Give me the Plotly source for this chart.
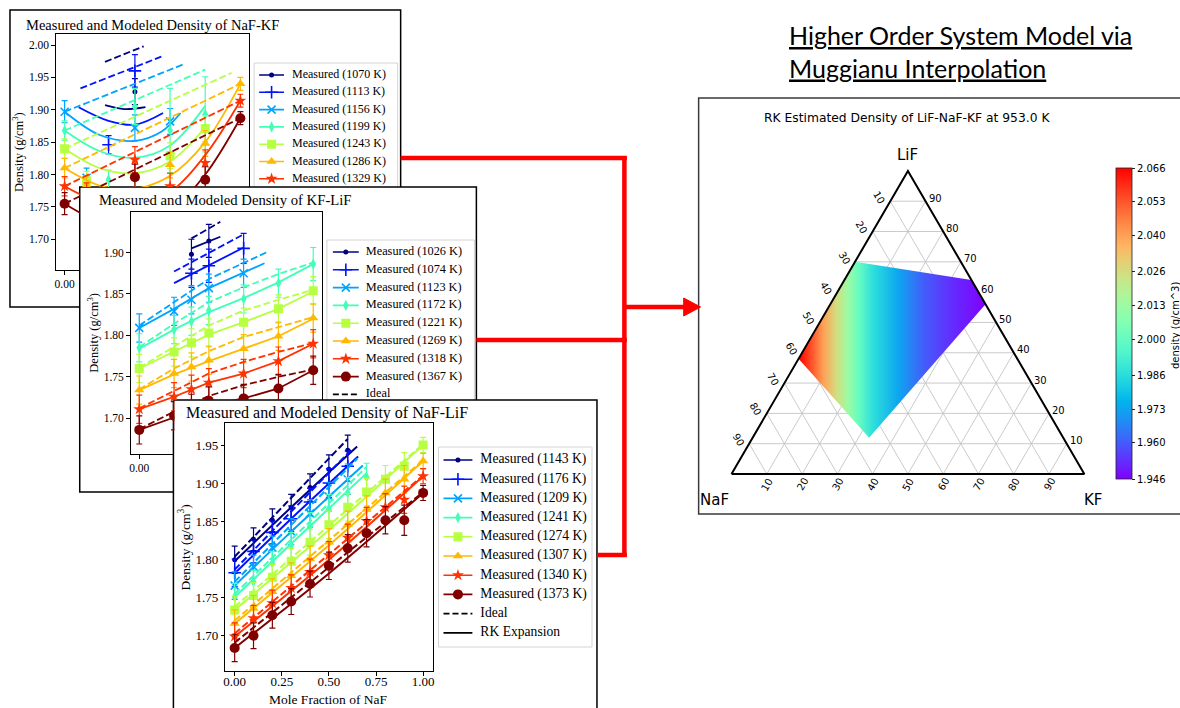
import math
import plotly.graph_objects as go

W, H = 1180, 708

# ------------------------------------------------------------------ data
JET8 = ['#000080', '#0012ff', '#00a4ff', '#41ffb6', '#b6ff41', '#ffb900', '#ff3200', '#800000']
MARKERS = ['circle', 'cross-thin-open', 'x-thin-open', 'diamond-tall', 'square', 'triangle-up', 'star', 'circle']
MSIZES = [5, 9, 8, 8, 9, 9, 9, 10]

X_TICKS = [0.0, 0.25, 0.5, 0.75, 1.0]
X_TICK_TEXT = ['0.00', '0.25', '0.50', '0.75', '1.00']
Y1_TICKS = [1.70, 1.75, 1.80, 1.85, 1.90, 1.95, 2.00]
Y2_TICKS = [1.70, 1.75, 1.80, 1.85, 1.90]
Y3_TICKS = [1.70, 1.75, 1.80, 1.85, 1.90, 1.95]

# Panel 1: NaF-KF
T1 = [1070, 1113, 1156, 1199, 1243, 1286, 1329, 1372]
P1_IDEAL_X = [[0.23, 0.45], [0.09, 0.55], [0.0, 0.675], [0.0, 0.80], [0.0, 0.95], [0.0, 1.0], [0.0, 1.0], [0.0, 1.0]]
P1_IDEAL_Y = [[1.974, 1.998], [1.933, 1.982], [1.897, 1.970], [1.868, 1.962], [1.840, 1.957], [1.810, 1.940], [1.782, 1.914], [1.755, 1.887]]
P1_RK_X = [[0.23, 0.34, 0.46], [0.08, 0.25, 0.40, 0.56], [0.0, 0.2, 0.4, 0.55, 0.66],
           [0.0, 0.2, 0.4, 0.6, 0.8], [0.0, 0.2, 0.4, 0.6, 0.8], [0.0, 0.2, 0.4, 0.6, 0.8, 1.0],
           [0.0, 0.2, 0.4, 0.6, 0.8, 1.0], [0.0, 0.2, 0.4, 0.6, 0.8, 1.0]]
P1_RK_Y = [[1.907, 1.901, 1.904], [1.904, 1.883, 1.877, 1.895], [1.897, 1.861, 1.852, 1.866, 1.895],
           [1.868, 1.836, 1.826, 1.845, 1.906], [1.840, 1.810, 1.802, 1.820, 1.873],
           [1.810, 1.783, 1.778, 1.798, 1.850, 1.940], [1.782, 1.757, 1.752, 1.773, 1.830, 1.914],
           [1.755, 1.727, 1.718, 1.743, 1.800, 1.887]]
P1_MEAS_X = [[0.4], [0.25, 0.4], [0.0, 0.125, 0.4, 0.6], [0.0, 0.25, 0.4, 0.6, 0.8], [0.0, 0.125, 0.6, 0.8],
             [0.0, 0.125, 0.4, 0.6, 0.8, 1.0], [0.0, 0.125, 0.4, 0.6, 0.8, 1.0], [0.0, 0.4, 0.8, 1.0]]
P1_MEAS_Y = [[1.928], [1.846, 1.960], [1.897, 1.795, 1.872, 1.882], [1.868, 1.792, 1.905, 1.868, 1.893],
             [1.840, 1.790, 1.829, 1.871], [1.810, 1.783, 1.800, 1.815, 1.848, 1.940],
             [1.782, 1.772, 1.823, 1.782, 1.818, 1.914], [1.755, 1.796, 1.792, 1.887]]
P1_MEAS_E = [[0.020], [0.014, 0.025], [0.017, 0.015, 0.020, 0.020], [0.015, 0.015, 0.028, 0.065, 0.058],
             [0.015, 0.015, 0.020, 0.020], [0.015, 0.015, 0.020, 0.020, 0.020, 0.010],
             [0.015, 0.015, 0.020, 0.020, 0.020, 0.010], [0.017, 0.020, 0.020, 0.010]]

# Panel 2: KF-LiF
T2 = [1026, 1074, 1123, 1172, 1221, 1269, 1318, 1367]
P2_IDEAL_X = [[0.3, 0.466], [0.2, 0.6], [0.0, 0.2, 0.4, 0.73], [0.0, 0.2, 0.4, 0.6, 0.8, 1.0],
              [0.0, 0.2, 0.4, 0.6, 0.8, 1.0], [0.0, 0.2, 0.4, 0.6, 0.8, 1.0],
              [0.0, 0.2, 0.4, 0.6, 0.8, 1.0], [0.0, 0.2, 0.4, 0.6, 0.8, 1.0]]
P2_IDEAL_Y = [[1.917, 1.937], [1.877, 1.922], [1.812, 1.840, 1.868, 1.900],
              [1.786, 1.814, 1.840, 1.858, 1.874, 1.888], [1.761, 1.787, 1.812, 1.830, 1.843, 1.855],
              [1.735, 1.760, 1.781, 1.798, 1.810, 1.822], [1.712, 1.733, 1.754, 1.768, 1.780, 1.791],
              [1.687, 1.708, 1.727, 1.740, 1.750, 1.759]]
P2_RK_X = [[0.3, 0.466], [0.2, 0.6], [0.0, 0.2, 0.4, 0.72], [0.0, 0.2, 0.4, 0.6, 0.8, 1.0],
           [0.0, 0.2, 0.4, 0.6, 0.8, 1.0], [0.0, 0.2, 0.4, 0.6, 0.8, 1.0],
           [0.0, 0.2, 0.4, 0.6, 0.8, 1.0], [0.0, 0.2, 0.4, 0.6, 0.8, 1.0]]
P2_RK_Y = [[1.905, 1.919], [1.863, 1.906], [1.809, 1.832, 1.857, 1.887],
           [1.784, 1.807, 1.828, 1.845, 1.864, 1.886], [1.760, 1.780, 1.801, 1.816, 1.832, 1.853],
           [1.734, 1.753, 1.769, 1.784, 1.799, 1.820], [1.711, 1.726, 1.743, 1.754, 1.769, 1.790],
           [1.686, 1.701, 1.716, 1.724, 1.736, 1.758]]
P2_MEAS_X = [[0.3, 0.4], [0.3, 0.4, 0.6], [0.0, 0.2, 0.3, 0.4, 0.6],
             [0.0, 0.2, 0.3, 0.4, 0.6, 0.8, 1.0], [0.0, 0.2, 0.3, 0.4, 0.6, 0.8, 1.0],
             [0.0, 0.2, 0.3, 0.4, 0.6, 0.8, 1.0], [0.0, 0.2, 0.3, 0.4, 0.6, 0.8, 1.0],
             [0.0, 0.2, 0.3, 0.4, 0.6, 0.8, 1.0]]
P2_MEAS_Y = [[1.898, 1.914], [1.875, 1.884, 1.905], [1.809, 1.829, 1.843, 1.857, 1.875],
             [1.785, 1.807, 1.817, 1.830, 1.844, 1.863, 1.886],
             [1.760, 1.780, 1.791, 1.803, 1.816, 1.832, 1.854],
             [1.734, 1.754, 1.762, 1.770, 1.784, 1.799, 1.821],
             [1.711, 1.726, 1.735, 1.743, 1.754, 1.769, 1.790],
             [1.686, 1.703, 1.712, 1.721, 1.724, 1.736, 1.758]]
P2_MEAS_E = [[0.018, 0.020], [0.017, 0.020, 0.018], [0.017, 0.017, 0.017, 0.017, 0.017],
             [0.017, 0.017, 0.017, 0.017, 0.017, 0.017, 0.020],
             [0.017, 0.017, 0.017, 0.017, 0.017, 0.017, 0.017],
             [0.017, 0.017, 0.017, 0.017, 0.017, 0.017, 0.017],
             [0.017, 0.017, 0.017, 0.017, 0.017, 0.017, 0.017],
             [0.017, 0.017, 0.017, 0.017, 0.017, 0.017, 0.017]]

# Panel 3: NaF-LiF
T3 = [1143, 1176, 1209, 1241, 1274, 1307, 1340, 1373]
X7 = [0.0, 0.1, 0.2, 0.3, 0.4, 0.5, 0.6]
X8 = [0.0, 0.1, 0.2, 0.3, 0.4, 0.5, 0.6, 0.7]
X11 = [0.0, 0.1, 0.2, 0.3, 0.4, 0.5, 0.6, 0.7, 0.8, 0.9, 1.0]
P3_IDEAL_X = [[0.0, 0.60], [0.0, 0.62], [0.0, 0.65], [0.0, 0.70], [0.0, 1.0], [0.0, 1.0], [0.0, 1.0], [0.0, 1.0]]
P3_IDEAL_Y = [[1.803, 1.958], [1.786, 1.944], [1.770, 1.932], [1.754, 1.921],
              [1.737, 1.951], [1.719, 1.930], [1.702, 1.910], [1.690, 1.888]]
P3_RK_X = [[0.0, 0.3, 0.65], [0.0, 0.3, 0.655], [0.0, 0.3, 0.68], [0.0, 0.3, 0.70],
           [0.0, 0.5, 1.0], [0.0, 0.5, 1.0], [0.0, 0.5, 1.0], [0.0, 0.5, 1.0]]
P3_RK_Y = [[1.797, 1.868, 1.948], [1.781, 1.853, 1.935], [1.765, 1.836, 1.923], [1.750, 1.820, 1.913],
           [1.733, 1.838, 1.950], [1.715, 1.818, 1.929], [1.698, 1.799, 1.909], [1.683, 1.781, 1.887]]
P3_MEAS_X = [X7, X7, X7, X8, X11, X11, X11, X11]
P3_MEAS_Y = [[1.799, 1.826, 1.851, 1.868, 1.894, 1.918, 1.943],
             [1.782, 1.810, 1.835, 1.853, 1.875, 1.900, 1.922],
             [1.765, 1.790, 1.815, 1.836, 1.860, 1.882, 1.905],
             [1.750, 1.770, 1.795, 1.818, 1.843, 1.866, 1.887, 1.908],
             [1.733, 1.752, 1.776, 1.797, 1.822, 1.845, 1.868, 1.888, 1.905, 1.922, 1.950],
             [1.715, 1.735, 1.757, 1.778, 1.800, 1.822, 1.845, 1.865, 1.887, 1.905, 1.929],
             [1.698, 1.722, 1.742, 1.762, 1.783, 1.805, 1.828, 1.850, 1.868, 1.878, 1.909],
             [1.683, 1.699, 1.726, 1.744, 1.767, 1.791, 1.814, 1.834, 1.851, 1.851, 1.887]]
P3_MEAS_E = [[0.018, 0.015, 0.015, 0.017, 0.018, 0.019, 0.020],
             [0.018, 0.015, 0.015, 0.017, 0.018, 0.019, 0.020],
             [0.018, 0.015, 0.015, 0.017, 0.018, 0.019, 0.020],
             [0.018, 0.015, 0.015, 0.017, 0.018, 0.019, 0.020, 0.018],
             [0.018, 0.017, 0.017, 0.017, 0.017, 0.018, 0.018, 0.018, 0.018, 0.018, 0.010],
             [0.018, 0.017, 0.017, 0.017, 0.017, 0.018, 0.018, 0.018, 0.018, 0.018, 0.010],
             [0.018, 0.017, 0.017, 0.017, 0.017, 0.018, 0.018, 0.018, 0.018, 0.018, 0.010],
             [0.018, 0.017, 0.017, 0.017, 0.017, 0.018, 0.018, 0.018, 0.018, 0.020, 0.010]]

# Ternary: LiF-NaF-KF region (mole fractions) and density gradient
TERN_TICKS = [10, 20, 30, 40, 50, 60, 70, 80, 90]
REGION_LIF = [0.70, 0.64, 0.56, 0.12, 0.38]
REGION_NAF = [0.30, 0.00, 0.00, 0.55, 0.62]
REGION_KF = [0.00, 0.36, 0.44, 0.33, 0.00]
GRAD_POS = [0.0, 0.07, 0.13, 0.20, 0.26, 0.32, 0.40, 0.53, 0.67, 0.83, 1.0]
GRAD_DENSITY = [2.066, 2.053, 2.040, 2.026, 2.013, 2.000, 1.986, 1.973, 1.960, 1.952, 1.946]
CBAR_TICKS = [1.946, 1.960, 1.973, 1.986, 2.000, 2.013, 2.026, 2.040, 2.053, 2.066]
D_MIN, D_MAX = 1.946, 2.066

SERIF = 'Liberation Serif'
SANS = 'DejaVu Sans'


# ------------------------------------------------------------------ helpers
def pxx(x):
    return x / W


def pyy(y):
    return 1 - y / H


def rainbow(t):
    t = min(max(t, 0.0), 1.0)
    r = min(1.0, abs(2 * t - 0.5))
    g = math.sin(math.pi * t)
    b = math.cos(math.pi * t / 2)
    return 'rgb(%d,%d,%d)' % (round(255 * r), round(255 * g), round(255 * max(b, 0)))


RAINBOW = [[i / 20, rainbow(i / 20)] for i in range(21)]

layout = dict(width=W, height=H, margin=dict(l=0, r=0, t=0, b=0), paper_bgcolor='white',
              plot_bgcolor='rgba(0,0,0,0)', showlegend=False, shapes=[], annotations=[])
traces = []

BASE = dict(showgrid=False, zeroline=False, showline=False, ticks='', showticklabels=False,
            fixedrange=True, autorange=False)
LINE = dict(showline=True, linecolor='black', linewidth=1)


def ref(i, k):
    return k if i == 1 else '%s%d' % (k, i)


def add_axes(i, rect, xr, yr, xo=None, yo=None):
    l, t, r, b = rect
    xa = dict(BASE, domain=[l / W, r / W], range=xr, anchor=ref(i, 'y'))
    ya = dict(BASE, domain=[1 - b / H, 1 - t / H], range=yr, anchor=ref(i, 'x'))
    if xo:
        xa.update(xo)
    if yo:
        ya.update(yo)
    layout[('xaxis' if i == 1 else 'xaxis%d' % i)] = xa
    layout[('yaxis' if i == 1 else 'yaxis%d' % i)] = ya


def ticks(size, vals, texts):
    return dict(ticks='outside', ticklen=3.5, tickwidth=1, tickcolor='black', showticklabels=True,
                tickvals=vals, ticktext=texts, tickfont=dict(family=SERIF, size=size, color='black'))


def sub_range(P, rect):
    l, t, r, b = rect
    fx = lambda p: P['x0'] + (p - P['L']) / (P['R'] - P['L']) * (P['x1'] - P['x0'])
    fy = lambda p: P['yb'] + (P['B'] - p) / (P['B'] - P['T']) * (P['yt'] - P['yb'])
    return [fx(l), fx(r)], [fy(b), fy(t)]


def marker(i):
    thin = 'thin' in MARKERS[i]
    return dict(symbol=MARKERS[i], size=MSIZES[i], color=JET8[i],
                line=dict(color=JET8[i], width=1.6 if thin else 0))


def add_series(i_ax, IX, IY, RX, RY, MX, MY, ME, lw, shape):
    xa, ya = ref(i_ax, 'x'), ref(i_ax, 'y')
    for i in range(8):
        c = JET8[i]
        traces.append(go.Scatter(x=IX[i], y=IY[i], mode='lines', xaxis=xa, yaxis=ya, hoverinfo='skip',
                                 line=dict(color=c, width=lw, dash='7px,3px')))
        traces.append(go.Scatter(x=RX[i], y=RY[i], mode='lines', xaxis=xa, yaxis=ya, hoverinfo='skip',
                                 line=dict(color=c, width=lw, shape=shape, smoothing=1.0)))
        traces.append(go.Scatter(x=MX[i], y=MY[i], mode='markers', xaxis=xa, yaxis=ya, hoverinfo='skip',
                                 marker=marker(i),
                                 error_y=dict(type='data', array=ME[i], color=c, thickness=1.2, width=3)))


def tick_text(vals):
    return ['%.2f' % v for v in vals]


def rect_shape(l, t, r, b, line_color='black', width=1.5, fill='white', layer='below'):
    return dict(type='rect', xref='paper', yref='paper', x0=pxx(l), x1=pxx(r), y0=pyy(b), y1=pyy(t),
                line=dict(color=line_color, width=width), fillcolor=fill, layer=layer)


def ann(x, y, text, size, family=SERIF, **kw):
    d = dict(x=pxx(x), y=pyy(y), xref='paper', yref='paper', text=text, showarrow=False,
             xanchor='center', yanchor='middle',
             font=dict(family=family, size=size, color='black'))
    d.update(kw)
    layout['annotations'].append(d)


def add_legend(i_ax, rect, y0, dy, hx0, hx1, tx, temps, size):
    l, t, r, b = rect
    add_axes(i_ax, rect, [l, r], [b, t])
    xa, ya = ref(i_ax, 'x'), ref(i_ax, 'y')
    labels = ['Measured (%d K)' % T for T in temps] + ['Ideal', 'RK Expansion']
    ys = [y0 + k * dy for k in range(10)]
    vis = [y - 0.45 * size < b for y in ys]   # entries fully hidden by the next panel are skipped
    for i in range(8):
        if not vis[i]:
            continue
        traces.append(go.Scatter(x=[hx0, hx1], y=[ys[i], ys[i]], mode='lines', xaxis=xa, yaxis=ya,
                                 hoverinfo='skip', line=dict(color=JET8[i], width=1.6)))
        traces.append(go.Scatter(x=[(hx0 + hx1) / 2], y=[ys[i]], mode='markers', xaxis=xa, yaxis=ya,
                                 hoverinfo='skip', marker=marker(i)))
    if vis[8]:
        traces.append(go.Scatter(x=[hx0, hx1], y=[ys[8], ys[8]], mode='lines', xaxis=xa, yaxis=ya,
                                 hoverinfo='skip', line=dict(color='black', width=1.8, dash='6px,3px')))
    if vis[9]:
        traces.append(go.Scatter(x=[hx0, hx1], y=[ys[9], ys[9]], mode='lines', xaxis=xa, yaxis=ya,
                                 hoverinfo='skip', line=dict(color='black', width=1.8)))
    keep = [k for k in range(10) if vis[k]]
    traces.append(go.Scatter(x=[tx] * len(keep), y=[ys[k] for k in keep], text=[labels[k] for k in keep],
                             mode='text', textposition='middle right', xaxis=xa, yaxis=ya, hoverinfo='skip',
                             textfont=dict(family=SERIF, size=size, color='black')))


# ------------------------------------------------------------------ frames (drawn first, below)
layout['shapes'].append(rect_shape(8, 10, 400, 307))
layout['shapes'].append(rect_shape(253, 63, 397, 244, line_color='#d4d4d4', width=1))
layout['shapes'].append(rect_shape(78, 187, 476, 492))
layout['shapes'].append(rect_shape(326, 240, 474, 425, line_color='#d4d4d4', width=1))
layout['shapes'].append(rect_shape(172, 400, 597, 712))
layout['shapes'].append(rect_shape(438, 447, 592, 647, line_color='#d4d4d4', width=1))
layout['shapes'].append(rect_shape(699, 98, 1190, 514, line_color='#3a3a3a', width=1.5))

# ------------------------------------------------------------------ panel 1 (NaF-KF)
P1 = dict(L=54, T=34, R=248, B=270, x0=-0.05, x1=1.05, yb=1.6526, yt=2.0170)
rA = (54, 34, 248, 187)
rB = (54, 187, 78, 270)
xr, yr = sub_range(P1, rA)
add_axes(1, rA, xr, yr, dict(LINE, side='top'),
         dict(LINE, mirror=True, **ticks(11.5, Y1_TICKS, tick_text(Y1_TICKS))))
xr, yr = sub_range(P1, rB)
add_axes(2, rB, xr, yr, dict(LINE, **ticks(11.5, X_TICKS, X_TICK_TEXT)),
         dict(LINE, **ticks(11.5, Y1_TICKS, tick_text(Y1_TICKS))))
for k in (1, 2):
    add_series(k, P1_IDEAL_X, P1_IDEAL_Y, P1_RK_X, P1_RK_Y, P1_MEAS_X, P1_MEAS_Y, P1_MEAS_E, 1.8, 'spline')

# ------------------------------------------------------------------ panel 2 (KF-LiF)
P2 = dict(L=129, T=212, R=321, B=454, x0=-0.05, x1=1.05, yb=1.65694, yt=1.94885)
rC = (129, 212, 321, 400)
rD = (129, 400, 173, 454)
xr, yr = sub_range(P2, rC)
add_axes(3, rC, xr, yr, dict(LINE, side='top'),
         dict(LINE, mirror=True, **ticks(11.5, Y2_TICKS, tick_text(Y2_TICKS))))
xr, yr = sub_range(P2, rD)
add_axes(4, rD, xr, yr, dict(LINE, **ticks(11.5, X_TICKS, X_TICK_TEXT)),
         dict(LINE, **ticks(11.5, Y2_TICKS, tick_text(Y2_TICKS))))
for k in (3, 4):
    add_series(k, P2_IDEAL_X, P2_IDEAL_Y, P2_RK_X, P2_RK_Y, P2_MEAS_X, P2_MEAS_Y, P2_MEAS_E, 1.8, 'linear')

# ------------------------------------------------------------------ panel 3 (NaF-LiF)
P3 = dict(L=224, T=423, R=432, B=671, x0=-0.05, x1=1.05, yb=1.65263, yt=1.97895)
rE = (224, 423, 432, 671)
xr, yr = sub_range(P3, rE)
add_axes(5, rE, xr, yr, dict(LINE, mirror=True, ticklabelstandoff=-5, **ticks(13, X_TICKS, X_TICK_TEXT)),
         dict(LINE, mirror=True, **ticks(13, Y3_TICKS, tick_text(Y3_TICKS))))
add_series(5, P3_IDEAL_X, P3_IDEAL_Y, P3_RK_X, P3_RK_Y, P3_MEAS_X, P3_MEAS_Y, P3_MEAS_E, 2.0, 'spline')

# ------------------------------------------------------------------ legends
add_legend(7, (253, 63, 400, 187), 75, 17.3, 258, 283, 291, T1, 12)
add_legend(8, (326, 240, 476, 400), 252, 17.8, 332, 358, 365, T2, 12.3)
add_legend(9, (438, 447, 597, 660), 460, 19.2, 443, 472, 480, T3, 13.6)

# ------------------------------------------------------------------ text of the matplotlib panels
ann(151, 25, 'Measured and Modeled Density of NaF-KF', 14.5)
ann(224, 200, 'Measured and Modeled Density of KF-LiF', 14.7)
ann(326, 413, 'Measured and Modeled Density of NaF-LiF', 16)
ann(16, 152, 'Density (g/cm<sup>3</sup>)', 12.5, textangle=-90)
ann(91, 333, 'Density (g/cm<sup>3</sup>)', 12.5, textangle=-90)
ann(183, 547, 'Density (g/cm<sup>3</sup>)', 13.5, textangle=-90)
ann(328, 699, 'Mole Fraction of NaF', 13.5)

# ------------------------------------------------------------------ ternary (cartesian projection)
S3 = math.sqrt(3) / 2
XS, YS = 354.0, 350.0  # px per unit
rT = (699, 98, 1180, 514)
add_axes(6, rT, [-(732 - 699) / XS, (1180 - 732) / XS], [-(514 - 474) / YS, (474 - 98) / YS])


def tern_xy(lif, naf, kf):
    s = lif + naf + kf
    a, c = lif / s, kf / s
    return c + a / 2, a * S3


gx, gy = [], []
for k in TERN_TICKS:
    f = k / 100
    for p, q in ((tern_xy(f, 1 - f, 0), tern_xy(f, 0, 1 - f)),      # LiF = const
                 (tern_xy(0, 1 - f, f), tern_xy(1 - f, 0, f)),      # KF = const
                 (tern_xy(0, f, 1 - f), tern_xy(1 - f, f, 0))):     # NaF = const
        gx += [p[0], q[0], None]
        gy += [p[1], q[1], None]
traces.append(go.Scatter(x=gx, y=gy, mode='lines', xaxis='x6', yaxis='y6', hoverinfo='skip',
                         line=dict(color='#c4c4c4', width=0.9)))

reg = [tern_xy(a, b, c) for a, b, c in zip(REGION_LIF, REGION_NAF, REGION_KF)]
rx = [p[0] for p in reg] + [reg[0][0]]
ry = [p[1] for p in reg] + [reg[0][1]]
grad_scale = [[p, rainbow((d - D_MIN) / (D_MAX - D_MIN))] for p, d in zip(GRAD_POS, GRAD_DENSITY)]
traces.append(go.Scatter(x=rx, y=ry, mode='lines', fill='toself', xaxis='x6', yaxis='y6', hoverinfo='skip',
                         line=dict(width=0, color='rgba(0,0,0,0)'),
                         fillgradient=dict(type='horizontal', colorscale=grad_scale,
                                           start=min(rx), stop=max(rx))))

corners = [tern_xy(0, 1, 0), tern_xy(0, 0, 1), tern_xy(1, 0, 0), tern_xy(0, 1, 0)]
traces.append(go.Scatter(x=[p[0] for p in corners], y=[p[1] for p in corners], mode='lines',
                         xaxis='x6', yaxis='y6', hoverinfo='skip', line=dict(color='black', width=2)))

cbar = dict(x=1118 / W, xanchor='left', xpad=0, y=pyy(323.5), yanchor='middle', ypad=0,
            len=311, lenmode='pixels', thickness=16, thicknessmode='pixels',
            outlinecolor='#222', outlinewidth=0.8, tickvals=CBAR_TICKS,
            ticktext=['%.3f' % v for v in CBAR_TICKS], ticks='outside', ticklen=3, tickcolor='#222',
            tickfont=dict(family=SANS, size=10, color='black'))
cmark = dict(color=[2.0], colorscale=RAINBOW, cmin=D_MIN, cmax=D_MAX, showscale=True, colorbar=cbar)
traces.append(go.Scatter(x=[None], y=[None], mode='markers', xaxis='x6', yaxis='y6', hoverinfo='skip',
                         marker=cmark))
ann(1177, 326, 'density (g/cm^3)', 10, family=SANS, textangle=-90)

for k in TERN_TICKS:
    f = k / 100
    x, y = tern_xy(f, 0, 1 - f)     # right edge: LiF
    layout['annotations'].append(dict(x=x, y=y, xref='x6', yref='y6', text=str(k), showarrow=False,
                                      xanchor='left', yanchor='middle', xshift=1, yshift=3,
                                      font=dict(family=SANS, size=10, color='black')))
    x, y = tern_xy(1 - f, f, 0)     # left edge: NaF
    layout['annotations'].append(dict(x=x, y=y, xref='x6', yref='y6', text=str(k), showarrow=False,
                                      xanchor='center', yanchor='middle', xshift=-11, yshift=4, textangle=60,
                                      font=dict(family=SANS, size=10, color='black')))
    x, y = tern_xy(0, 1 - f, f)     # bottom edge: KF
    layout['annotations'].append(dict(x=x, y=y, xref='x6', yref='y6', text=str(k), showarrow=False,
                                      xanchor='center', yanchor='middle', yshift=-10, textangle=-60,
                                      font=dict(family=SANS, size=10, color='black')))

for (a, b, c), txt, dx, dy in (((1, 0, 0), 'LiF', 0, 16), ((0, 1, 0), 'NaF', -17, -26), ((0, 0, 1), 'KF', 9, -26)):
    x, y = tern_xy(a, b, c)
    layout['annotations'].append(dict(x=x, y=y, xref='x6', yref='y6', text=txt, showarrow=False,
                                      xanchor='center', yanchor='middle', xshift=dx, yshift=dy,
                                      font=dict(family=SANS, size=15, color='black')))

ann(908, 118, 'RK Estimated Density of LiF-NaF-KF at 953.0 K', 12.3, family=SANS)

# ------------------------------------------------------------------ header
ann(788, 51, '<u>Higher Order System Model via</u><br><u>Muggianu Interpolation</u>', 25, family='Lato',
    xanchor='left', yanchor='middle', align='left')

# ------------------------------------------------------------------ red connectors
RED = '#ff0000'


def red_line(x0, y0, x1, y1):
    layout['shapes'].append(dict(type='line', xref='paper', yref='paper', x0=pxx(x0), y0=pyy(y0),
                                 x1=pxx(x1), y1=pyy(y1), line=dict(color=RED, width=4.5), layer='above'))


red_line(400, 158, 627, 158)
red_line(624.5, 156, 624.5, 557)
red_line(476, 340, 627, 340)
red_line(597, 555, 627, 555)
red_line(624, 307, 688, 307)
arrow_path = 'M %f,%f L %f,%f L %f,%f Z' % (pxx(684), pyy(298), pxx(701), pyy(307), pxx(684), pyy(316))
layout['shapes'].append(dict(type='path', xref='paper', yref='paper', layer='above', path=arrow_path,
                             fillcolor=RED, line=dict(color=RED, width=1)))

fig = go.Figure(data=traces, layout=layout)
fig.write_html('out.html')
